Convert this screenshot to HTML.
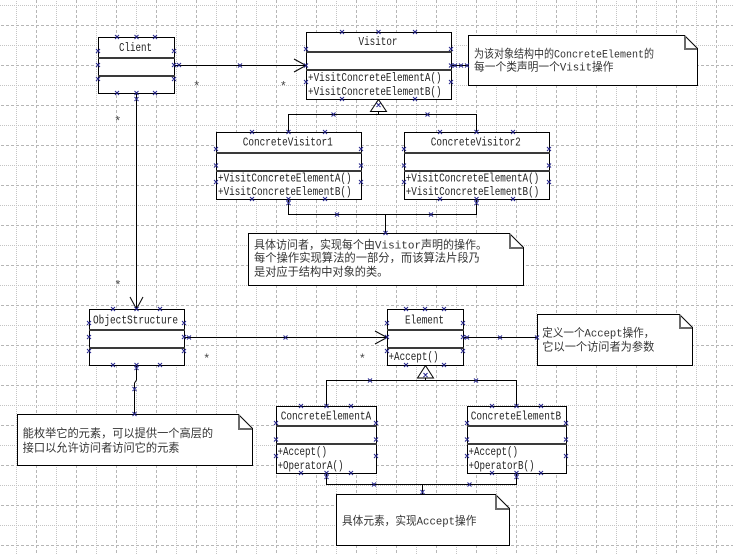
<!DOCTYPE html>
<html><head><meta charset="utf-8">
<style>
html,body{margin:0;padding:0;background:#fff;width:733px;height:555px;overflow:hidden}
svg{display:block}
.cls{font-family:"Liberation Mono",monospace;font-size:12px;fill:#222}
.cjk{font-family:"Liberation Mono","Noto Sans CJK SC",sans-serif;font-size:11.2px;fill:#333}
.ast{font-family:"Liberation Mono",monospace;font-size:12px;fill:#444}
</style></head>
<body>
<svg width="733" height="555" viewBox="0 0 733 555" xmlns="http://www.w3.org/2000/svg">
<defs>
<pattern id="g" x="16" y="5" width="40" height="40" patternUnits="userSpaceOnUse">
<line x1="0.5" y1="0" x2="0.5" y2="40" stroke="#c4c4c4" stroke-dasharray="1 1"/>
<line x1="20.5" y1="0" x2="20.5" y2="40" stroke="#b6b6b6" stroke-dasharray="3 2"/>
<line x1="0" y1="0.5" x2="40" y2="0.5" stroke="#c4c4c4" stroke-dasharray="1 1"/>
<line x1="0" y1="20.5" x2="40" y2="20.5" stroke="#b6b6b6" stroke-dasharray="3 2"/>
</pattern>
</defs>
<rect x="0" y="0" width="733" height="555" fill="#fff"/>
<rect x="0" y="0" width="733" height="555" fill="url(#g)"/>

<!-- connectors -->
<g fill="none" stroke="#000" stroke-width="1">
<path d="M174.5 65.5H306.5" shape-rendering="crispEdges"/>
<path d="M294 59L306 65.5L294 72"/>
<path d="M451.5 65.5H468.5" shape-rendering="crispEdges"/>
<path d="M378.5 111.5V114.5M288.5 132.5V114.5H476.5V132.5" shape-rendering="crispEdges"/>
<path d="M288.5 199.5V214.5H476.5V199.5M385.5 214.5V233.5" shape-rendering="crispEdges"/>
<path d="M136.5 93.5V309.5" shape-rendering="crispEdges"/>
<path d="M130 297L136.5 309L143 297"/>
<path d="M184.5 337.5H387.5" shape-rendering="crispEdges"/>
<path d="M375 331L387 337.5L375 344"/>
<path d="M463.5 337.5H537.5" shape-rendering="crispEdges"/>
<path d="M136.5 365.5V380L134.5 383V414.5"/>
<path d="M425.5 378V380.5M326.5 406V380.5H516.5V406" shape-rendering="crispEdges"/>
<path d="M326.5 473.5V484.5H516.5V473.5M422.5 484.5V494.5" shape-rendering="crispEdges"/>
</g>
<path d="M378.5 99.5L370.5 111.5H386.5Z" fill="#fff" stroke="#000"/>
<path d="M425.5 365.5L417.5 378H433.5Z" fill="#fff" stroke="#000"/>

<!-- class boxes -->
<g fill="#fff" stroke="#000" shape-rendering="crispEdges">
<rect x="98.5" y="37.5" width="76" height="56"/>
<rect x="306.5" y="32.5" width="145" height="67"/>
<rect x="216.5" y="132.5" width="145" height="67"/>
<rect x="404.5" y="132.5" width="145" height="67"/>
<rect x="89.5" y="309.5" width="95" height="56"/>
<rect x="387.5" y="309.5" width="76" height="56"/>
<rect x="276.5" y="406.5" width="100" height="67"/>
<rect x="467.5" y="406.5" width="99" height="67"/>
</g>
<g fill="#3a3a3a" shape-rendering="crispEdges">
<rect x="98" y="57" width="77" height="2"/><rect x="98" y="75" width="77" height="2"/>
<rect x="306" y="51" width="146" height="2"/><rect x="306" y="69" width="146" height="2"/>
<rect x="216" y="152" width="146" height="2"/><rect x="216" y="170" width="146" height="2"/>
<rect x="404" y="152" width="146" height="2"/><rect x="404" y="170" width="146" height="2"/>
<rect x="89" y="329" width="96" height="2"/><rect x="89" y="347" width="96" height="2"/>
<rect x="387" y="329" width="77" height="2"/><rect x="387" y="347" width="77" height="2"/>
<rect x="276" y="425" width="101" height="2"/><rect x="276" y="443" width="101" height="2"/>
<rect x="467" y="425" width="100" height="2"/><rect x="467" y="443" width="100" height="2"/>
</g>

<!-- notes -->
<g fill="#fff" stroke="#000">
<path d="M468.5 35.5H684.5L697.5 48.5V85.5H468.5Z"/>
<path d="M248.5 233.5H509.5L523.5 247.5V285.5H248.5Z"/>
<path d="M537.5 314.5H679.5L692.5 327.5V365.5H537.5Z"/>
<path d="M17.5 414.5H238.5L252.5 428.5V465.5H17.5Z"/>
<path d="M336.5 494.5H495.5L509.5 508.5V545.5H336.5Z"/>
</g>
<g fill="none" stroke="#6a6a6a" stroke-width="2">
<path d="M685 36V49H697"/>
<path d="M510 234V248H523"/>
<path d="M680 315V328H692"/>
<path d="M239 415V429H252"/>
<path d="M496 495V509H509"/>
</g>

<!-- class text -->
<text class="cls" x="119" y="51" textLength="33" lengthAdjust="spacingAndGlyphs">Client</text>
<text class="cls" x="358.5" y="45" textLength="39" lengthAdjust="spacingAndGlyphs">Visitor</text>
<text class="cls" x="308" y="81" textLength="133.5" lengthAdjust="spacingAndGlyphs">+VisitConcreteElementA()</text>
<text class="cls" x="308" y="95" textLength="133.5" lengthAdjust="spacingAndGlyphs">+VisitConcreteElementB()</text>
<text class="cls" x="242.7" y="145.5" textLength="90" lengthAdjust="spacingAndGlyphs">ConcreteVisitor1</text>
<text class="cls" x="218" y="181.5" textLength="133.5" lengthAdjust="spacingAndGlyphs">+VisitConcreteElementA()</text>
<text class="cls" x="218" y="195" textLength="133.5" lengthAdjust="spacingAndGlyphs">+VisitConcreteElementB()</text>
<text class="cls" x="430.7" y="145.5" textLength="90" lengthAdjust="spacingAndGlyphs">ConcreteVisitor2</text>
<text class="cls" x="405.7" y="181.5" textLength="133.5" lengthAdjust="spacingAndGlyphs">+VisitConcreteElementA()</text>
<text class="cls" x="405.7" y="195" textLength="133.5" lengthAdjust="spacingAndGlyphs">+VisitConcreteElementB()</text>
<text class="cls" x="93" y="323.5" textLength="85" lengthAdjust="spacingAndGlyphs">ObjectStructure</text>
<text class="cls" x="405" y="323.5" textLength="39" lengthAdjust="spacingAndGlyphs">Element</text>
<text class="cls" x="388.5" y="360" textLength="50" lengthAdjust="spacingAndGlyphs">+Accept()</text>
<text class="cls" x="280.7" y="419.5" textLength="90.5" lengthAdjust="spacingAndGlyphs">ConcreteElementA</text>
<text class="cls" x="277.5" y="455" textLength="49.5" lengthAdjust="spacingAndGlyphs">+Accept()</text>
<text class="cls" x="277.5" y="469" textLength="66" lengthAdjust="spacingAndGlyphs">+OperatorA()</text>
<text class="cls" x="470.7" y="419.5" textLength="90.5" lengthAdjust="spacingAndGlyphs">ConcreteElementB</text>
<text class="cls" x="468.5" y="455" textLength="49.5" lengthAdjust="spacingAndGlyphs">+Accept()</text>
<text class="cls" x="468.5" y="469" textLength="66" lengthAdjust="spacingAndGlyphs">+OperatorB()</text>

<!-- note text -->
<text class="cjk" x="474" y="57.6" textLength="180" lengthAdjust="spacingAndGlyphs">为该对象结构中的ConcreteElement的</text>
<text class="cjk" x="474" y="70.3" textLength="139.5" lengthAdjust="spacingAndGlyphs">每一个类声明一个Visit操作</text>
<text class="cjk" x="254" y="248.3" textLength="233" lengthAdjust="spacingAndGlyphs">具体访问者，实现每个由Visitor声明的操作。</text>
<text class="cjk" x="254" y="261.6" textLength="226" lengthAdjust="spacingAndGlyphs">每个操作实现算法的一部分，而该算法片段乃</text>
<text class="cjk" x="254" y="275.3" textLength="134.4" lengthAdjust="spacingAndGlyphs">是对应于结构中对象的类。</text>
<text class="cjk" x="542.3" y="336.6" textLength="112" lengthAdjust="spacingAndGlyphs">定义一个Accept操作，</text>
<text class="cjk" x="542.3" y="350.3" textLength="112" lengthAdjust="spacingAndGlyphs">它以一个访问者为参数</text>
<text class="cjk" x="22.7" y="437" textLength="190.4" lengthAdjust="spacingAndGlyphs">能枚举它的元素，可以提供一个高层的</text>
<text class="cjk" x="22.7" y="451.6" textLength="156.8" lengthAdjust="spacingAndGlyphs">接口以允许访问者访问它的元素</text>
<text class="cjk" x="342" y="524.3" textLength="134.4" lengthAdjust="spacingAndGlyphs">具体元素，实现Accept操作</text>

<!-- multiplicities -->
<g class="ast" text-anchor="middle">
<text x="196.7" y="90">*</text>
<text x="283.3" y="90">*</text>
<text x="117.7" y="125">*</text>
<text x="118" y="289">*</text>
<text x="206.7" y="362.7">*</text>
<text x="362.3" y="362.7">*</text>
</g>

<!-- selection markers -->
<path fill="none" stroke="#22228a" stroke-width="1" d="
M115 35l4 4m0-4l-4 4 M134.5 35l4 4m0-4l-4 4 M153 35l4 4m0-4l-4 4
M115 91l4 4m0-4l-4 4 M134.5 91l4 4m0-4l-4 4 M153 91l4 4m0-4l-4 4
M96 49l4 4m0-4l-4 4 M96 63l4 4m0-4l-4 4 M96 77l4 4m0-4l-4 4
M172 49l4 4m0-4l-4 4 M172 63l4 4m0-4l-4 4 M172 77l4 4m0-4l-4 4
M177 63l4 4m0-4l-4 4 M238 63.5l4 4m0-4l-4 4 M134.5 97l4 4m0-4l-4 4
M340 30l4 4m0-4l-4 4 M376.5 30l4 4m0-4l-4 4 M413 30l4 4m0-4l-4 4
M340 97l4 4m0-4l-4 4 M413 97l4 4m0-4l-4 4 M376.5 103l4 4m0-4l-4 4
M304 47l4 4m0-4l-4 4 M304 63.5l4 4m0-4l-4 4 M304 80l4 4m0-4l-4 4
M449 47l4 4m0-4l-4 4 M449 63.5l4 4m0-4l-4 4 M449 80l4 4m0-4l-4 4
M453 63.5l4 4m0-4l-4 4 M459 63.5l4 4m0-4l-4 4 M465 63.5l4 4m0-4l-4 4
M331.5 112.5l4 4m0-4l-4 4 M425.5 112.5l4 4m0-4l-4 4
M250 130l4 4m0-4l-4 4 M286.5 130l4 4m0-4l-4 4 M323 130l4 4m0-4l-4 4
M250 197l4 4m0-4l-4 4 M286.5 197l4 4m0-4l-4 4 M323 197l4 4m0-4l-4 4
M214 147l4 4m0-4l-4 4 M214 163.5l4 4m0-4l-4 4 M214 180l4 4m0-4l-4 4
M359 147l4 4m0-4l-4 4 M359 163.5l4 4m0-4l-4 4 M359 180l4 4m0-4l-4 4
M438 130l4 4m0-4l-4 4 M474.5 130l4 4m0-4l-4 4 M511 130l4 4m0-4l-4 4
M438 197l4 4m0-4l-4 4 M474.5 197l4 4m0-4l-4 4 M511 197l4 4m0-4l-4 4
M402 147l4 4m0-4l-4 4 M402 163.5l4 4m0-4l-4 4 M402 180l4 4m0-4l-4 4
M547 147l4 4m0-4l-4 4 M547 163.5l4 4m0-4l-4 4 M547 180l4 4m0-4l-4 4
M286.5 201l4 4m0-4l-4 4 M474.5 201l4 4m0-4l-4 4
M335 212.5l4 4m0-4l-4 4 M429 212.5l4 4m0-4l-4 4 M383.5 231l4 4m0-4l-4 4
M111 307l4 4m0-4l-4 4 M134.5 307l4 4m0-4l-4 4 M158 307l4 4m0-4l-4 4
M111 363l4 4m0-4l-4 4 M134.5 363l4 4m0-4l-4 4 M158 363l4 4m0-4l-4 4
M87 321l4 4m0-4l-4 4 M87 335l4 4m0-4l-4 4 M87 349l4 4m0-4l-4 4
M182 321l4 4m0-4l-4 4 M182 335l4 4m0-4l-4 4 M182 349l4 4m0-4l-4 4
M187 335.5l4 4m0-4l-4 4 M283.5 335.5l4 4m0-4l-4 4 M134.5 366l4 4m0-4l-4 4
M132.5 387l4 4m0-4l-4 4 M132.5 412l4 4m0-4l-4 4
M404 307l4 4m0-4l-4 4 M423 307l4 4m0-4l-4 4 M442 307l4 4m0-4l-4 4
M404 363l4 4m0-4l-4 4 M442 363l4 4m0-4l-4 4 M423.5 373l4 4m0-4l-4 4
M385 321l4 4m0-4l-4 4 M385 335l4 4m0-4l-4 4 M385 349l4 4m0-4l-4 4
M461 321l4 4m0-4l-4 4 M461 335l4 4m0-4l-4 4 M461 349l4 4m0-4l-4 4
M465 335.5l4 4m0-4l-4 4 M498 335.5l4 4m0-4l-4 4 M535 335.5l4 4m0-4l-4 4
M368 378.5l4 4m0-4l-4 4 M474 378.5l4 4m0-4l-4 4
M299 404l4 4m0-4l-4 4 M324.5 404l4 4m0-4l-4 4 M349 404l4 4m0-4l-4 4
M299 471l4 4m0-4l-4 4 M324.5 471l4 4m0-4l-4 4 M349 471l4 4m0-4l-4 4
M274 421l4 4m0-4l-4 4 M274 437.5l4 4m0-4l-4 4 M274 454l4 4m0-4l-4 4
M374 421l4 4m0-4l-4 4 M374 437.5l4 4m0-4l-4 4 M374 454l4 4m0-4l-4 4
M490 404l4 4m0-4l-4 4 M514.5 404l4 4m0-4l-4 4 M539 404l4 4m0-4l-4 4
M490 471l4 4m0-4l-4 4 M514.5 471l4 4m0-4l-4 4 M539 471l4 4m0-4l-4 4
M465 421l4 4m0-4l-4 4 M465 437.5l4 4m0-4l-4 4 M465 454l4 4m0-4l-4 4
M564 421l4 4m0-4l-4 4 M564 437.5l4 4m0-4l-4 4 M564 454l4 4m0-4l-4 4
M324.5 475l4 4m0-4l-4 4 M514.5 475l4 4m0-4l-4 4
M372 482.5l4 4m0-4l-4 4 M467.5 482.5l4 4m0-4l-4 4 M420.5 490l4 4m0-4l-4 4
"/>
</svg>
</body></html>
